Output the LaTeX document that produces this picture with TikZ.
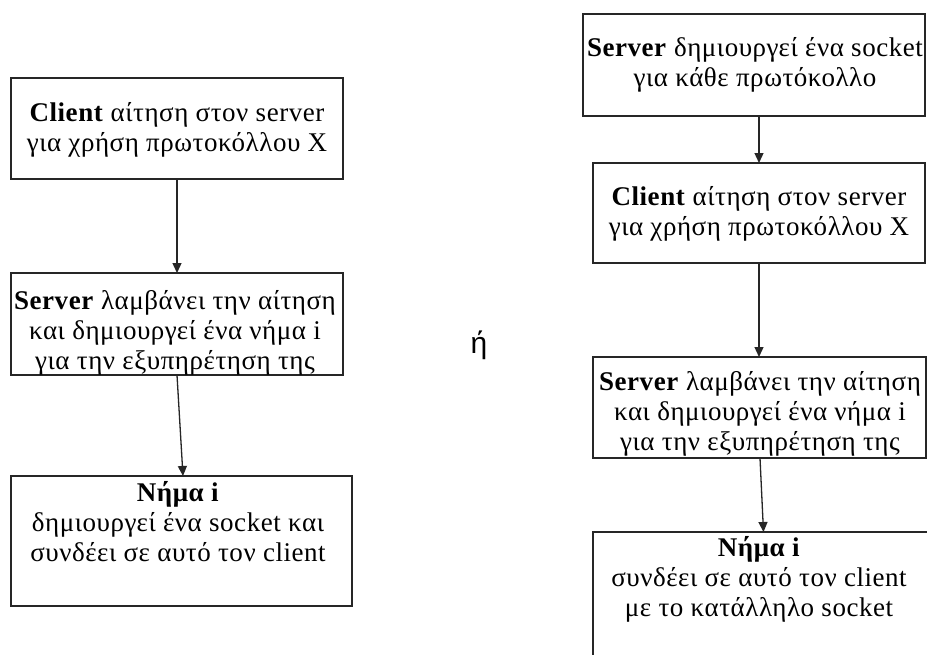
\documentclass[tikz,border=0pt]{standalone}
\usepackage{fontspec}
\setmainfont{Liberation Serif}[LetterSpace=2]
\newfontfamily\sansgr{Liberation Sans}
\usetikzlibrary{arrows.meta}
\begin{document}
\begin{tikzpicture}[x=1pt,y=-1pt,
  boxnode/.style={draw=black!85, line width=1.6pt, rectangle, inner sep=0pt, outer sep=0pt, anchor=north west},
  txt/.style={align=center, font=\fontsize{27}{30}\selectfont, inner sep=0pt},
  arr/.style={draw=black!85, line width=1.3pt, -{Triangle[length=10pt,width=9pt]}}]
\useasboundingbox (0,0) rectangle (927,654);
\fill[white] (0,0) rectangle (927,654);
\clip (0,0) rectangle (927,654);
% left column
\node[boxnode, minimum width=332pt, minimum height=101pt] (l1) at (11,78) {};
\node[boxnode, minimum width=332pt, minimum height=102pt] (l2) at (11,273) {};
\node[boxnode, minimum width=341pt, minimum height=130pt] (l3) at (11,476) {};
\node[txt] (tl1) at (177,130) {\textbf{Client} αίτηση στον server\\για χρήση πρωτοκόλλου X};
\node[txt] (tl2) at (175,333) {\textbf{Server} λαμβάνει την αίτηση\\και δημιουργεί ένα νήμα i\\για την εξυπηρέτηση της};
\node[txt] (tl3) at (178,522) {\textbf{Νήμα i}\\δημιουργεί ένα socket και\\συνδέει σε αυτό τον client};
\draw[arr] (l1.south) -- (l2.north);
\draw[arr] (l2.south) -- ([xshift=1.5pt]l3.north);
% or
\node[font=\sansgr\fontsize{30}{32}\selectfont, inner sep=0pt] (or) at (479,345) {ή};
% right column
\node[boxnode, minimum width=342pt, minimum height=102pt] (r1) at (583,14) {};
\node[boxnode, minimum width=332pt, minimum height=100pt] (r2) at (593,163) {};
\node[boxnode, minimum width=333pt, minimum height=101pt] (r3) at (593,357) {};
\node[boxnode, minimum width=350pt, minimum height=140pt] (r4) at (593,532) {};
\node[txt] (tr1) at (755,65) {\textbf{Server} δημιουργεί ένα socket\\για κάθε πρωτόκολλο};
\node[txt] (tr2) at (759,214) {\textbf{Client} αίτηση στον server\\για χρήση πρωτοκόλλου X};
\node[txt] (tr3) at (760,414) {\textbf{Server} λαμβάνει την αίτηση\\και δημιουργεί ένα νήμα i\\για την εξυπηρέτηση της};
\node[txt] (tr4) at (759,579) {\textbf{Νήμα i}\\συνδέει σε αυτό τον client\\με το κατάλληλο socket};
\draw[arr] ([xshift=5pt]r1.south) -- (r2.north);
\draw[arr] (r2.south) -- ([xshift=-0.5pt]r3.north);
\draw[arr] ([xshift=0.5pt]r3.south) -- ([xshift=-4.5pt]r4.north);
\end{tikzpicture}
\end{document}
